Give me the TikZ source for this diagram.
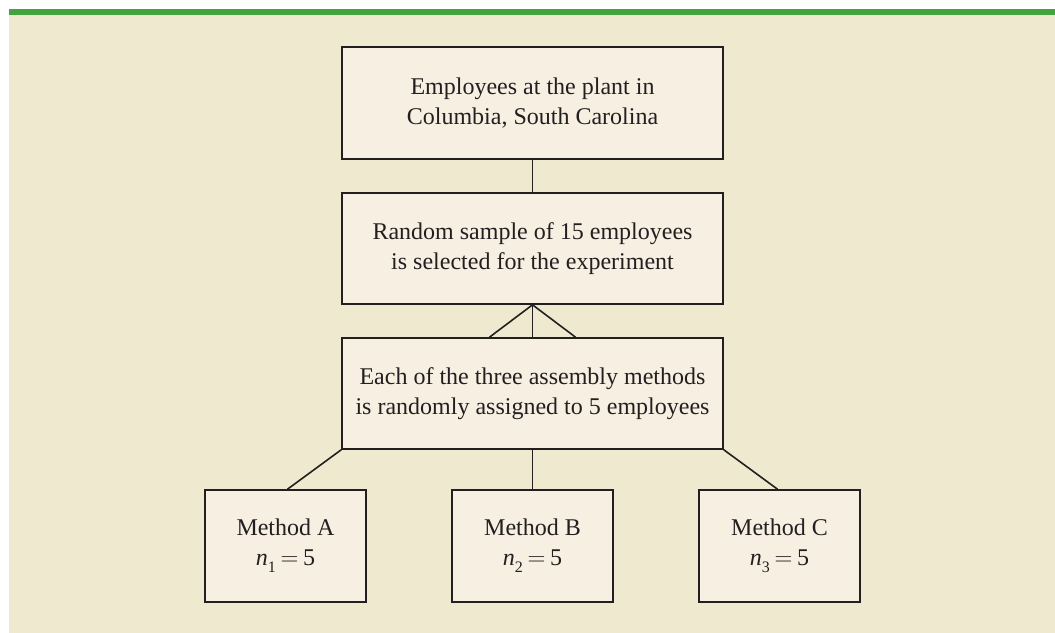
\documentclass[tikz,border=0pt]{standalone}
\usepackage{fontspec}
\setmainfont{Liberation Serif}
\usetikzlibrary{calc}
\definecolor{bgbeige}{HTML}{EFEACF}
\definecolor{boxfill}{HTML}{F7EFE2}
\definecolor{barGreen}{HTML}{43A33F}
\definecolor{ink}{HTML}{231F20}
\tikzset{
  flowbox/.style={draw=ink, line width=1.6bp, fill=boxfill, text=ink, align=center,
    inner sep=0pt, font=\fontsize{24bp}{30bp}\selectfont},
  bigbox/.style={flowbox, minimum width=381bp, minimum height=111bp},
  smallbox/.style={flowbox, minimum width=161bp, minimum height=112bp},
  link/.style={draw=ink, line width=1.6bp}
}
\newcommand{\nsub}[1]{\textit{n}\raisebox{-0.3em}{\fontsize{16bp}{16bp}\selectfont #1}\kern0.2em$=$\kern0.2em 5}
\begin{document}
\begin{tikzpicture}[x=1bp,y=-1bp]
\useasboundingbox (0,0) rectangle (1055,633);
\fill[white] (0,0) rectangle (1055,633);
\fill[bgbeige] (9,15) rectangle (1055,633);
\fill[barGreen] (9,9) rectangle (1055,15);
\node[bigbox, minimum height=112bp] (top) at (532.5,103) {Employees at the plant in\\Columbia, South Carolina};
\node[bigbox] (sample) at (532.5,248.5) {Random sample of 15 employees\\is selected for the experiment};
\node[bigbox] (assign) at (532.5,393.5) {Each of the three assembly methods\\is randomly assigned to 5 employees};
\node[smallbox] (ma) at (285.5,546) {Method A\\\nsub{1}};
\node[smallbox] (mb) at (532.5,546) {Method B\\\nsub{2}};
\node[smallbox] (mc) at (779.5,546) {Method C\\\nsub{3}};
\coordinate (fanL) at ($(assign.north)+(-43,0)$);
\coordinate (fanR) at ($(assign.north)+(43,0)$);
\draw[link] (top.south) -- (sample.north);
\draw[link] (sample.south) -- (assign.north);
\draw[link] (sample.south) -- (fanL);
\draw[link] (sample.south) -- (fanR);
\draw[link] (assign.south west) -- ($(ma.north)+(2,0)$);
\draw[link] (assign.south) -- (mb.north);
\draw[link] (assign.south east) -- ($(mc.north)+(-2,0)$);
\end{tikzpicture}
\end{document}
